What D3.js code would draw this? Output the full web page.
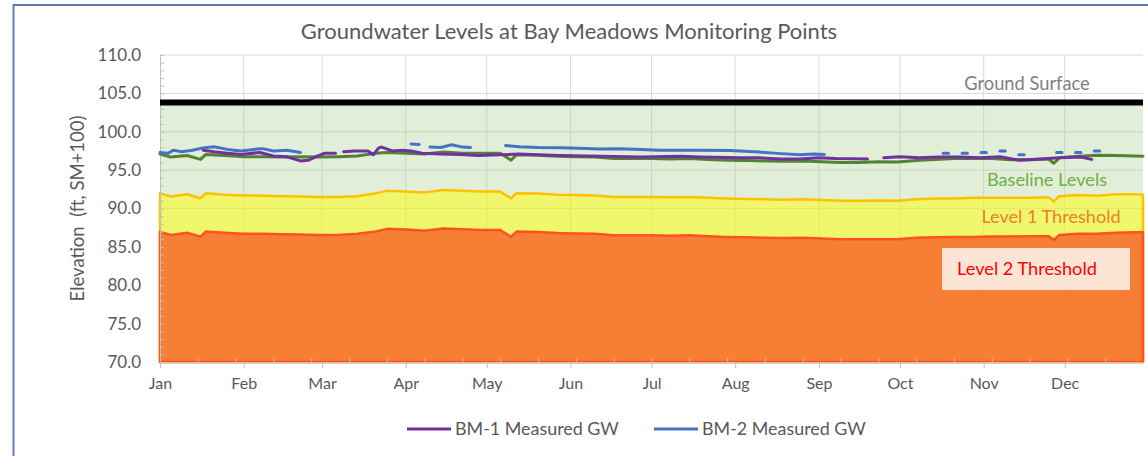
<!DOCTYPE html>
<html>
<head>
<meta charset="utf-8">
<script src="https://cdn.jsdelivr.net/npm/d3@7"></script>
<style>
  body { margin: 0; background: #fff; }
  svg { display: block; font-family: Lato, 'Open Sans', sans-serif; }
</style>
</head>
<body>
<div id="GW_CHART"></div>
<script>
// values, days counted from Jan 1
const year = 2020;
const months = ['Jan', 'Feb', 'Mar', 'Apr', 'May', 'Jun', 'Jul', 'Aug', 'Sep', 'Oct', 'Nov', 'Dec'];
const yTicks = [70, 75, 80, 85, 90, 95, 100, 105, 110];

const groundDays = [0, 364];
const ground = [103.8, 103.8];

const baseDays = [0, 4, 10, 15, 17, 24, 31, 38, 45, 52, 59, 66, 73, 80, 84, 91, 98, 105, 112, 119,
  126, 130, 132, 140, 147, 154, 161, 168, 175, 182, 189, 196, 203, 210, 217, 224, 231, 238, 245, 252,
  259, 266, 273, 280, 287, 294, 301, 308, 315, 322, 329, 331, 333, 340, 347, 354, 361, 364];
const baseline = [97.1, 96.7, 96.9, 96.4, 97.05, 96.9, 96.75, 96.75, 96.7, 96.75,
  96.7, 96.75, 96.85, 97.2, 97.3, 97.2, 97.1, 97.35, 97.2, 97.2,
  97.2, 96.3, 97.0, 96.95, 96.8, 96.75, 96.7, 96.5, 96.5, 96.5,
  96.45, 96.5, 96.4, 96.3, 96.25, 96.2, 96.15, 96.2, 96.1, 96.0,
  96.0, 96.1, 96.05, 96.25, 96.4, 96.5, 96.55, 96.5, 96.35, 96.35,
  96.45, 95.9, 96.6, 96.8, 96.95, 96.9, 96.85, 96.8];
const level1 = [92.0, 91.55, 91.85, 91.33, 91.98, 91.8, 91.7, 91.67, 91.6, 91.55,
  91.5, 91.5, 91.6, 92.0, 92.3, 92.2, 92.1, 92.4, 92.3, 92.2,
  92.2, 91.3, 92.0, 91.95, 91.8, 91.75, 91.7, 91.5, 91.5, 91.5,
  91.45, 91.5, 91.4, 91.3, 91.25, 91.2, 91.15, 91.2, 91.1, 91.0,
  91.0, 91.05, 91.0, 91.2, 91.3, 91.3, 91.4, 91.4, 91.4, 91.4,
  91.45, 90.9, 91.6, 91.75, 91.65, 91.85, 91.85, 91.8];
const level2 = [86.95, 86.55, 86.85, 86.33, 87.0, 86.85, 86.7, 86.7, 86.65, 86.6,
  86.55, 86.55, 86.7, 87.0, 87.35, 87.25, 87.1, 87.4, 87.3, 87.2,
  87.2, 86.3, 87.0, 86.95, 86.8, 86.75, 86.7, 86.5, 86.5, 86.5,
  86.45, 86.5, 86.4, 86.3, 86.25, 86.2, 86.15, 86.2, 86.1, 86.0,
  86.0, 86.0, 86.0, 86.2, 86.25, 86.3, 86.3, 86.35, 86.35, 86.4,
  86.4, 85.9, 86.55, 86.7, 86.7, 86.85, 86.9, 86.9];

// null = no reading (gap in the line)
const bm1Days = [16, 20, 25, 30, 37, 42, 47, 52, 55, 58, 61, 65, 66, 68, 72, 77, 79, 81, 82, 86, 90, 93, 97,
  104, 111, 118, 126, 133, 140, 148, 163, 178, 193, 200, 215, 222, 230, 237, 244, 250, 262, 265,
  268, 274, 281, 289, 296, 304, 311, 318, 326, 333, 341, 345];
const bm1 = [97.6, 97.4, 97.2, 97.05, 97.3, 96.85, 96.75, 96.2, 96.3, 96.8, 97.2, 97.2, null,
  97.4, 97.5, 97.5, 97.0, 97.9, 98.0, 97.5, 97.6, 97.5, 97.2,
  97.1, 97.05, 96.9, 97.0, 97.1, 97.0, 96.9, 96.8, 96.7, 96.8,
  96.7, 96.6, 96.6, 96.45, 96.45, 96.6, 96.5, 96.45, null,
  96.6, 96.75, 96.6, 96.7, 96.7, 96.6, 96.75, 96.3, 96.45, 96.6, 96.7, 96.4];

const bm2Days = [0, 3, 5, 8, 12, 16, 20, 25, 30, 36, 38, 42, 47, 52, 70, 93, 96, 98,
  100, 104, 108, 112, 115, 120, 128, 133, 140, 148, 155, 163, 170, 178, 185, 200, 211, 222, 230, 237, 242, 246, 260,
  290, 292, 294, 297, 299, 301, 304, 306, 308, 311, 313, 315, 318, 320, 326, 332, 334, 336, 339, 341, 343, 346, 348];
const bm2 = [97.3, 97.2, 97.6, 97.4, 97.6, 97.9, 98.05, 97.7, 97.5, 97.75, 97.8, 97.5, 97.6, 97.3, null,
  98.4, 98.35, null,
  98.0, 97.95, 98.3, 98.0, 97.95, null,
  98.2, 98.05, 97.95, 97.9, 97.85, 97.75, 97.8, 97.7, 97.6, 97.6, 97.55, 97.35, 97.15, 97.0, 97.1, 97.05, null,
  97.2, 97.2, null, 97.2, 97.2, null, 97.3, 97.3, null, 97.5, 97.5, null, 97.0, 97.0, null,
  97.3, 97.3, null, 97.3, 97.3, null, 97.5, 97.5];

const width = 1148;
const height = 456;
const margin = {top: 55, right: 5, bottom: 94, left: 160};
const textColor = '#595959';

const day = n => d3.timeDay.offset(new Date(year, 0, 1), n);

const svg = d3.select('#GW_CHART')
  .append('svg')
  .attr('width', width)
  .attr('height', height);

// chart frame
svg.append('rect')
  .attr('x', 13.5)
  .attr('y', 5)
  .attr('width', width + 20)
  .attr('height', height + 20)
  .attr('fill', 'none')
  .attr('stroke', '#5b80ad')
  .attr('stroke-width', 2);

const x = d3.scaleTime()
  .domain([day(0), day(364)])
  .range([margin.left, width - margin.right]);

const y = d3.scaleLinear()
  .domain([70, 110])
  .range([height - margin.bottom, margin.top]);

// gridlines
svg.append('g')
  .selectAll('line')
  .data(yTicks.slice(1))
  .join('line')
  .attr('x1', x.range()[0])
  .attr('x2', x.range()[1])
  .attr('y1', d => y(d))
  .attr('y2', d => y(d))
  .attr('stroke', '#d9d9d9');

const monthTicks = months.map((m, i) => new Date(year, i, 1));

svg.append('g')
  .selectAll('line')
  .data(monthTicks.slice(1))
  .join('line')
  .attr('x1', d => x(d))
  .attr('x2', d => x(d))
  .attr('y1', y(110))
  .attr('y2', y(70))
  .attr('stroke', '#d9d9d9');

// bands
const band = days => d3.area()
  .x((d, i) => x(day(days[i])))
  .y0(y(70))
  .y1(d => y(d));

svg.append('path')
  .datum(ground)
  .attr('fill', '#a9d08e')
  .attr('fill-opacity', 0.35)
  .attr('d', band(groundDays));

svg.append('path')
  .datum(level1)
  .attr('fill', '#ffff00')
  .attr('fill-opacity', 0.5)
  .attr('stroke', '#ffc000')
  .attr('stroke-width', 2.5)
  .attr('stroke-linejoin', 'round')
  .attr('d', band(baseDays));

svg.append('path')
  .datum(level2)
  .attr('fill', '#f76a2c')
  .attr('fill-opacity', 0.85)
  .attr('stroke', '#ff521c')
  .attr('stroke-width', 2.5)
  .attr('stroke-linejoin', 'round')
  .attr('d', band(baseDays));

// axes
const xAxis = g => g
  .attr('transform', `translate(0,${y(70)})`)
  .call(d3.axisBottom(x).tickValues(monthTicks).tickFormat((d, i) => months[i]).tickSizeInner(6).tickSizeOuter(0).tickPadding(10))
  .call(h => h.select('.domain').attr('stroke', '#bfbfbf'))
  .call(h => h.selectAll('.tick line').attr('stroke', '#bfbfbf'))
  .call(h => h.selectAll('.tick text').attr('fill', textColor).attr('font-size', 16).attr('font-family', 'Lato'));

const xMinor = g => g
  .attr('transform', `translate(0,${y(70)})`)
  .call(d3.axisBottom(x).tickValues(d3.range(14, 364, 14).map(day)).tickSize(-4).tickFormat(''))
  .call(h => h.select('.domain').remove())
  .call(h => h.selectAll('.tick line').attr('stroke', '#bfbfbf'));

const yAxis = g => g
  .attr('transform', `translate(${margin.left},0)`)
  .call(d3.axisLeft(y).tickValues(yTicks).tickFormat(d3.format('.1f')).tickSize(0).tickPadding(19))
  .call(h => h.select('.domain').attr('stroke', '#bfbfbf'))
  .call(h => h.selectAll('.tick text').attr('fill', textColor).attr('font-size', 17).attr('font-family', 'Lato'));

const yMinor = g => g
  .attr('transform', `translate(${margin.left},0)`)
  .call(d3.axisRight(y).tickValues(d3.range(70, 111, 1)).tickSize(4).tickFormat(''))
  .call(h => h.select('.domain').remove())
  .call(h => h.selectAll('.tick line').attr('stroke', '#bfbfbf'));

svg.append('g').call(yAxis);
svg.append('g').call(yMinor);
svg.append('g').call(xAxis);
svg.append('g').call(xMinor);

// lines
const series = days => d3.line()
  .defined(d => d != null)
  .x((d, i) => x(day(days[i])))
  .y(d => y(d));

svg.append('path')
  .datum(ground)
  .attr('fill', 'none')
  .attr('stroke', '#000')
  .attr('stroke-width', 6)
  .attr('d', series(groundDays));

const lines = [
  {values: baseline, days: baseDays, color: '#548235'},
  {values: bm1, days: bm1Days, color: '#7030a0'},
  {values: bm2, days: bm2Days, color: '#4472c4'}
];

lines.forEach(s => {
  svg.append('path')
    .datum(s.values)
    .attr('fill', 'none')
    .attr('stroke', s.color)
    .attr('stroke-width', 3)
    .attr('stroke-linejoin', 'round')
    .attr('stroke-linecap', 'round')
    .attr('d', series(s.days));
});

// labels on the bands
svg.append('text')
  .attr('x', 1027)
  .attr('y', 90)
  .attr('text-anchor', 'middle')
  .attr('font-size', 18.3)
  .attr('fill', '#7f7f7f')
  .text('Ground Surface');

svg.append('text')
  .attr('x', 1047)
  .attr('y', 186)
  .attr('text-anchor', 'middle')
  .attr('font-size', 18.2)
  .attr('fill', '#70ad47')
  .text('Baseline Levels');

svg.append('text')
  .attr('x', 1051)
  .attr('y', 223)
  .attr('text-anchor', 'middle')
  .attr('font-size', 18.1)
  .attr('fill', '#ed7d31')
  .text('Level 1 Threshold');

svg.append('rect')
  .attr('x', 942)
  .attr('y', 248)
  .attr('width', 188)
  .attr('height', 42)
  .attr('fill', '#fff')
  .attr('fill-opacity', 0.8);

svg.append('text')
  .attr('x', 1027)
  .attr('y', 275)
  .attr('text-anchor', 'middle')
  .attr('font-size', 18.2)
  .attr('fill', '#ff0000')
  .text('Level 2 Threshold');

// title
svg.append('text')
  .attr('x', 569)
  .attr('y', 39)
  .attr('text-anchor', 'middle')
  .attr('font-size', 22)
  .attr('fill', textColor)
  .text('Groundwater Levels at Bay Meadows Monitoring Points');

// y axis title
svg.append('text')
  .attr('transform', `translate(84,${(y(70) + y(110)) / 2}) rotate(-90)`)
  .attr('text-anchor', 'middle')
  .attr('font-size', 18.5)
  .attr('fill', textColor)
  .style('white-space', 'pre')
  .text('Elevation  (ft, SM+100)');

// legend
const legend = [
  {name: 'BM-1 Measured GW', color: '#7030a0', x: 407},
  {name: 'BM-2 Measured GW', color: '#4472c4', x: 654}
];

const item = svg.append('g')
  .selectAll('g')
  .data(legend)
  .join('g')
  .attr('transform', d => `translate(${d.x},429)`);

item.append('line')
  .attr('x2', 44)
  .attr('stroke', d => d.color)
  .attr('stroke-width', 3);

item.append('text')
  .attr('x', 48)
  .attr('y', 6)
  .attr('font-size', 17.9)
  .attr('fill', textColor)
  .text(d => d.name);
</script>
</body>
</html>
